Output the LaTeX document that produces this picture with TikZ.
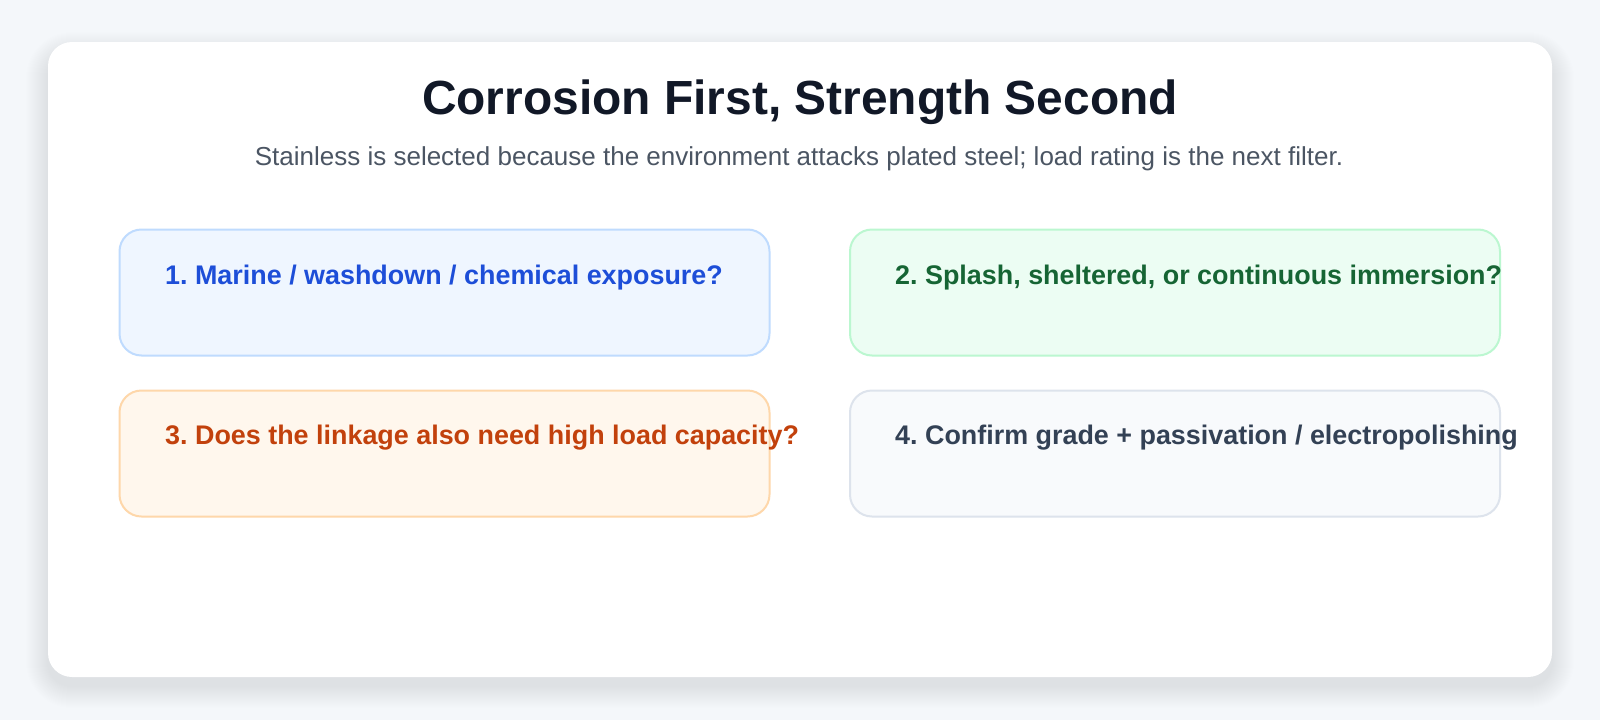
\documentclass[tikz,border=0pt]{standalone}
\usepackage{fontspec}
\setmainfont{Liberation Sans}
\frenchspacing
\definecolor{bgc}{HTML}{F4F7FA}
\definecolor{shc}{HTML}{6A747E}
\definecolor{titlec}{HTML}{111827}
\definecolor{subc}{HTML}{4B5563}
\definecolor{bAfill}{HTML}{EFF6FF}
\definecolor{bAdraw}{HTML}{BFDBFE}
\definecolor{bAtext}{HTML}{1D4ED8}
\definecolor{bBfill}{HTML}{ECFDF3}
\definecolor{bBdraw}{HTML}{BBF7D0}
\definecolor{bBtext}{HTML}{166534}
\definecolor{bCfill}{HTML}{FFF7ED}
\definecolor{bCdraw}{HTML}{FED7AA}
\definecolor{bCtext}{HTML}{C2410C}
\definecolor{bDfill}{HTML}{F8FAFC}
\definecolor{bDdraw}{HTML}{DDE3EC}
\definecolor{bDtext}{HTML}{334155}
\tikzset{
  qbox/.style={rectangle, rounded corners=22pt, line width=2pt, minimum width=650pt, minimum height=126pt, inner sep=0pt},
  qtext/.style={anchor=base west, inner sep=0pt, font=\fontsize{26.9}{32}\selectfont\bfseries},
}
\begin{document}
\begin{tikzpicture}[x=1pt,y=-1pt]
\fill[bgc] (0,0) rectangle (1600,720);
\useasboundingbox (0,0) rectangle (1600,720);
\foreach \i in {1,...,22}{
  \fill[shc, opacity=0.0035, rounded corners={24pt+\i pt}] (48-\i,54-\i) rectangle (1552+\i,686+\i);
}
\node[name=card, rectangle, rounded corners=24pt, fill=white, minimum width=1504pt, minimum height=635pt, inner sep=0pt] at (800,359.5) {};
\node[name=title, anchor=base, inner sep=0pt, text=titlec, font=\fontsize{47.9}{56}\selectfont\bfseries] at (800,114) {Corrosion First, Strength Second};
\node[name=sub, anchor=base, inner sep=0pt, text=subc, font=\fontsize{26}{30}\selectfont] at (799,165) {Stainless is selected because the environment attacks plated steel; load rating is the next filter.};
\node[name=b1, qbox, fill=bAfill, draw=bAdraw] at (444.5,292.5) {};
\node[name=b2, qbox, fill=bBfill, draw=bBdraw] at (1175,292.5) {};
\node[name=b3, qbox, fill=bCfill, draw=bCdraw] at (444.5,453.5) {};
\node[name=b4, qbox, fill=bDfill, draw=bDdraw] at (1175,453.5) {};
\node[name=t1, qtext, text=bAtext] at (165,284) {1. Marine / washdown / chemical exposure?};
\node[name=t2, qtext, text=bBtext] at (895,284) {2. Splash, sheltered, or continuous immersion?};
\node[name=t3, qtext, text=bCtext] at (165,444) {3. Does the linkage also need high load capacity?};
\node[name=t4, qtext, text=bDtext] at (895,444) {4. Confirm grade + passivation / electropolishing};
\end{tikzpicture}
\end{document}
